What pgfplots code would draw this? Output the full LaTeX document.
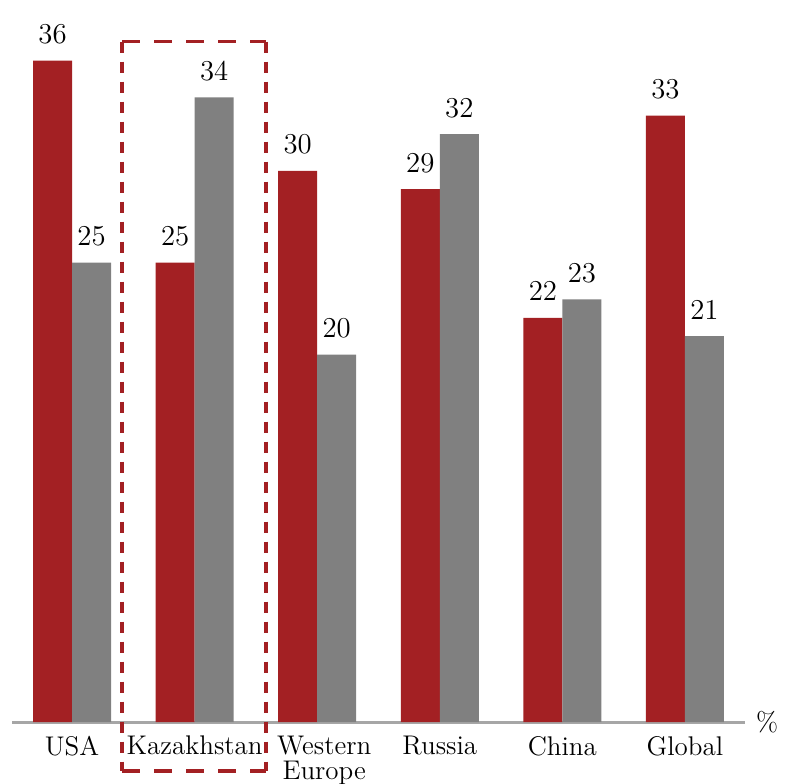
\documentclass[border=0pt]{standalone}
\usepackage{pgfplots}
\pgfplotsset{compat=1.18}

\definecolor{barred}{RGB}{163,32,35}
\definecolor{bargrey}{RGB}{128,128,128}
\definecolor{axisgrey}{RGB}{166,166,166}

\begin{document}
\begin{tikzpicture}
\begin{axis}[
  at={(0,0)}, anchor=south west,
  scale only axis,
  width=366.5pt, height=361pt,
  xmin=-0.49, xmax=5.49,
  ymin=0, ymax=39.3,
  ybar=0pt, bar width=19.5pt,
  axis x line*=bottom, axis y line=none,
  x axis line style={draw=axisgrey, line width=1.5pt, -},
  major tick length=0pt,
  xtick={0,1,2,3,4,5},
  xticklabels={USA, Kazakhstan, {\hspace*{7pt}Western\\\hspace*{7pt}Europe}, Russia, China, Global},
  xticklabel style={font=\fontsize{13.5}{12.5}\selectfont, align=center, anchor=north, yshift=-3.5pt},
  ytick=\empty,
  clip=false,
  nodes near coords,
  every node near coord/.append style={font=\fontsize{15}{17}\selectfont, text=black, anchor=south, yshift=5pt},
]
% first series (red)
\addplot[draw=none, fill=barred] coordinates {(0,36) (1,25) (2,30) (3,29) (4,22) (5,33)};
% second series (grey)
\addplot[draw=none, fill=bargrey] coordinates {(0,25) (1,34) (2,20) (3,32) (4,23) (5,21)};

% highlight frame around Kazakhstan
\draw[barred, line width=1.8pt, dash pattern=on 9pt off 7pt]
  (axis cs:0.408,37.04) -- (axis cs:1.584,37.04);
\draw[barred, line width=1.8pt, dash pattern=on 9pt off 7pt]
  (axis cs:0.408,-2.67) -- (axis cs:1.584,-2.67);
\draw[barred, line width=1.8pt, dash pattern=on 5.5pt off 4.5pt]
  (axis cs:0.408,37.04) -- (axis cs:0.408,-2.67);
\draw[barred, line width=1.8pt, dash pattern=on 5.5pt off 4.5pt]
  (axis cs:1.584,37.04) -- (axis cs:1.584,-2.67);

\node[anchor=west, xshift=2pt, font=\fontsize{13.5}{15}\selectfont] at (rel axis cs:1,0) {\%};
\end{axis}
\pgfresetboundingbox
\path (-6pt,-30.5pt) rectangle (387.5pt,361pt);
\end{tikzpicture}
\end{document}
